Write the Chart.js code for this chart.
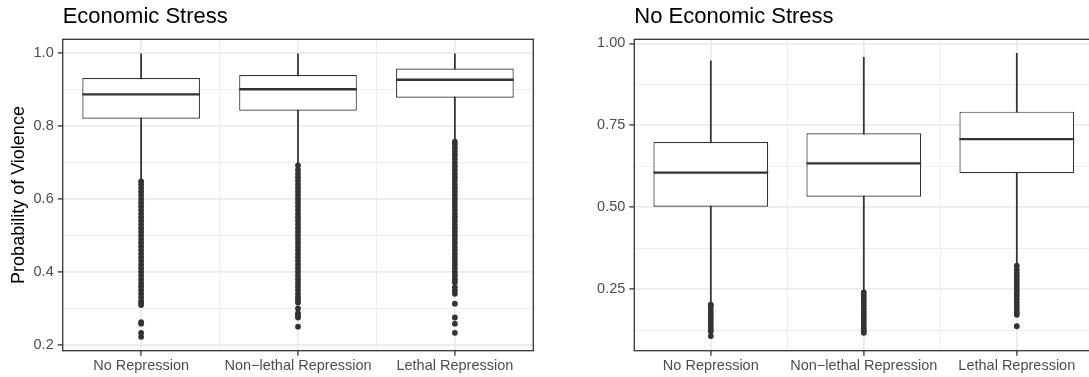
<!DOCTYPE html>
<html>
<head>
<meta charset="utf-8">
<script src="https://cdn.jsdelivr.net/npm/chart.js@4.4.1/dist/chart.umd.min.js"></script>
<style>
  html, body { margin: 0; padding: 0; background: #fff; width: 1089px; height: 377px; overflow: hidden; }
  canvas { position: absolute; top: 0; }
  #c1 { left: 0; }
  #c2 { left: 545px; }
</style>
</head>
<body>
<canvas id="c1" width="545" height="377"></canvas>
<canvas id="c2" width="560" height="377"></canvas>
<script>
  'use strict';

  // ---- data ----
  const categories = ['No Repression', 'Non\u2212lethal Repression', 'Lethal Repression'];

  // Economic Stress panel
  const stressMax    = [0.998, 0.998, 0.998];
  const stressQ3     = [0.932, 0.940, 0.958];
  const stressMedian = [0.887, 0.901, 0.927];
  const stressQ1     = [0.820, 0.842, 0.878];
  const stressLow    = [0.652, 0.695, 0.760];
  const stressOutNoRep = [0.648, 0.64, 0.63, 0.62, 0.61, 0.60, 0.59, 0.58, 0.57, 0.56, 0.55, 0.54,
    0.53, 0.52, 0.51, 0.50, 0.49, 0.48, 0.47, 0.46, 0.45, 0.44, 0.43, 0.42, 0.41, 0.40, 0.39, 0.38,
    0.37, 0.36, 0.35, 0.34, 0.33, 0.32, 0.315, 0.309, 0.262, 0.258, 0.233, 0.222];
  const stressOutNonLethal = [0.692, 0.68, 0.67, 0.66, 0.65, 0.64, 0.63, 0.62, 0.61, 0.60, 0.59,
    0.58, 0.57, 0.56, 0.55, 0.54, 0.53, 0.52, 0.51, 0.50, 0.49, 0.48, 0.47, 0.46, 0.45, 0.44, 0.43,
    0.42, 0.41, 0.40, 0.39, 0.38, 0.37, 0.36, 0.35, 0.34, 0.33, 0.322, 0.316, 0.300, 0.287, 0.280,
    0.275, 0.250];
  const stressOutLethal = [0.757, 0.75, 0.74, 0.73, 0.72, 0.71, 0.70, 0.69, 0.68, 0.67, 0.66, 0.65,
    0.64, 0.63, 0.62, 0.61, 0.60, 0.59, 0.58, 0.57, 0.56, 0.55, 0.54, 0.53, 0.52, 0.51, 0.50, 0.49,
    0.48, 0.47, 0.46, 0.45, 0.44, 0.43, 0.42, 0.41, 0.40, 0.39, 0.38, 0.372, 0.358, 0.349, 0.340,
    0.313, 0.275, 0.258, 0.233];
  const stressTicks      = [0.2, 0.3, 0.4, 0.5, 0.6, 0.7, 0.8, 0.9, 1.0];
  const stressTickLabels = ['0.2', '', '0.4', '', '0.6', '', '0.8', '', '1.0'];

  // No Economic Stress panel
  const noStressMax    = [0.947, 0.958, 0.970];
  const noStressQ3     = [0.699, 0.726, 0.792];
  const noStressMedian = [0.606, 0.634, 0.708];
  const noStressQ1     = [0.502, 0.532, 0.604];
  const noStressLow    = [0.205, 0.243, 0.325];
  const noStressOutNoRep = [0.203, 0.20, 0.19, 0.18, 0.17, 0.16, 0.15, 0.14, 0.13, 0.122, 0.107];
  const noStressOutNonLethal = [0.240, 0.23, 0.22, 0.21, 0.20, 0.19, 0.18, 0.17, 0.16, 0.15, 0.14,
    0.13, 0.122, 0.117];
  const noStressOutLethal = [0.322, 0.31, 0.30, 0.29, 0.28, 0.27, 0.26, 0.25, 0.24, 0.23, 0.22,
    0.21, 0.20, 0.19, 0.18, 0.172, 0.137];
  const noStressTicks      = [0.125, 0.25, 0.375, 0.5, 0.625, 0.75, 0.875, 1.0];
  const noStressTickLabels = ['', '0.25', '', '0.50', '', '0.75', '', '1.00'];

  // ---- look ----
  const FONT = "'Liberation Sans', Arial, Helvetica, sans-serif";
  const INK = '#333333';
  const GRID = '#EBEBEB';

  // median lines, minor vertical grid, panel border
  const boxExtras = {
    id: 'boxExtras',
    beforeDatasetsDraw(chart) {
      const { ctx, chartArea: a, scales: { x } } = chart;
      ctx.save();
      ctx.strokeStyle = GRID;
      ctx.lineWidth = 0.9;
      for (let i = 0; i < categories.length - 1; i++) {
        const px = (x.getPixelForValue(i) + x.getPixelForValue(i + 1)) / 2;
        ctx.beginPath();
        ctx.moveTo(px, a.top);
        ctx.lineTo(px, a.bottom);
        ctx.stroke();
      }
      ctx.restore();
    },
    afterDatasetDraw(chart, args, opts) {
      if (args.index !== 1) return;
      const { ctx, scales: { y } } = chart;
      ctx.save();
      ctx.strokeStyle = INK;
      ctx.lineWidth = 2.3;
      args.meta.data.forEach((bar, i) => {
        const py = y.getPixelForValue(opts.medians[i]);
        ctx.beginPath();
        ctx.moveTo(bar.x - bar.width / 2, py);
        ctx.lineTo(bar.x + bar.width / 2, py);
        ctx.stroke();
      });
      ctx.restore();
    },
    afterDraw(chart) {
      const { ctx, chartArea: a } = chart;
      ctx.save();
      ctx.strokeStyle = INK;
      ctx.lineWidth = 1.3;
      ctx.strokeRect(a.left, a.top, a.right - a.left, a.bottom - a.top);
      ctx.restore();
    }
  };

  function outlierSet(values, cat) {
    return {
      type: 'scatter',
      data: values.map(v => ({ x: categories[cat], y: v })),
      pointRadius: 2.9,
      pointBackgroundColor: INK,
      pointBorderWidth: 0,
      order: 1
    };
  }

  function makePanel(el, cfg) {
    const isMajor = v => cfg.tickLabels[cfg.ticks.indexOf(v)] !== '';
    return new Chart(el, {
      type: 'bar',
      data: {
        labels: categories,
        datasets: [
          { // whiskers
            data: categories.map((_, i) => [cfg.low[i], cfg.max[i]]),
            backgroundColor: INK,
            barThickness: 1.1,
            grouped: false,
            order: 3
          },
          { // boxes
            data: categories.map((_, i) => [cfg.q1[i], cfg.q3[i]]),
            backgroundColor: '#FFFFFF',
            borderColor: INK,
            borderWidth: 1.2,
            borderSkipped: false,
            barPercentage: 0.75,
            categoryPercentage: 1,
            grouped: false,
            order: 2
          },
          outlierSet(cfg.outliers[0], 0),
          outlierSet(cfg.outliers[1], 1),
          outlierSet(cfg.outliers[2], 2)
        ]
      },
      options: {
        responsive: false,
        animation: false,
        layout: { padding: { left: 0, right: cfg.padRight, top: 0, bottom: 0 } },
        plugins: {
          legend: { display: false },
          tooltip: { enabled: false },
          title: {
            display: true,
            text: cfg.title,
            align: 'start',
            fullSize: false,
            color: '#000000',
            font: { family: FONT, size: 22, weight: 'normal' },
            padding: { top: 4, bottom: 8.9 }
          },
          boxExtras: { medians: cfg.medians }
        },
        scales: {
          x: {
            type: 'category',
            offset: true,
            afterFit: s => { s.height = 26.3; },
            border: { display: false },
            grid: { color: GRID, lineWidth: 1.8, offset: false, tickColor: INK, tickLength: 5, tickWidth: 1.3 },
            ticks: { color: '#4D4D4D', font: { family: FONT, size: 14.5 }, padding: 2, maxRotation: 0, autoSkip: false }
          },
          y: {
            min: cfg.min,
            max: cfg.max_,
            afterBuildTicks: s => { s.ticks = cfg.ticks.map(v => ({ value: v })); },
            afterFit: s => { s.width = cfg.yWidth; },
            border: { display: false },
            grid: {
              color: GRID,
              lineWidth: c => (c.tick && isMajor(c.tick.value)) ? 1.8 : 0.9,
              tickColor: c => (c.tick && isMajor(c.tick.value)) ? INK : 'rgba(0,0,0,0)',
              tickLength: 5,
              tickWidth: 1.3
            },
            ticks: {
              autoSkip: false,
              color: '#4D4D4D',
              font: { family: FONT, size: 14.5 },
              padding: 4,
              callback: (v, i) => cfg.tickLabels[i]
            },
            title: cfg.yTitle ? {
              display: true,
              text: cfg.yTitle,
              color: '#000000',
              font: { family: FONT, size: 18 },
              padding: { top: 8, bottom: 0 }
            } : { display: false }
          }
        }
      },
      plugins: [boxExtras]
    });
  }

  makePanel(document.getElementById('c1'), {
    title: 'Economic Stress',
    yTitle: 'Probability of Violence',
    max: stressMax, q3: stressQ3, medians: stressMedian, q1: stressQ1, low: stressLow,
    outliers: [stressOutNoRep, stressOutNonLethal, stressOutLethal],
    ticks: stressTicks, tickLabels: stressTickLabels,
    min: 0.184, max_: 1.038,
    yWidth: 62.7, padRight: 11.7
  });

  makePanel(document.getElementById('c2'), {
    title: 'No Economic Stress',
    yTitle: null,
    max: noStressMax, q3: noStressQ3, medians: noStressMedian, q1: noStressQ1, low: noStressLow,
    outliers: [noStressOutNoRep, noStressOutNonLethal, noStressOutLethal],
    ticks: noStressTicks, tickLabels: noStressTickLabels,
    min: 0.0623, max_: 1.0128,
    yWidth: 89.3, padRight: 11.7
  });
</script>
</body>
</html>
